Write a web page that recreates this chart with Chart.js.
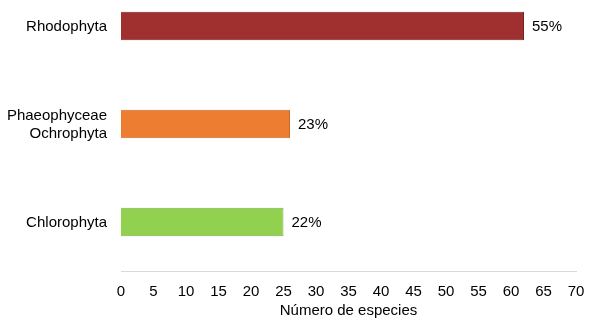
<!DOCTYPE html>
<html>
<head>
<meta charset="utf-8">
<script src="https://cdn.jsdelivr.net/npm/chart.js@4/dist/chart.umd.min.js"></script>
<style>
  html, body { margin: 0; padding: 0; background: #fff; }
  #wrap { width: 589px; height: 328px; }
</style>
</head>
<body>
<div id="wrap"><canvas id="barChart"></canvas></div>
<script>
var groups = [["Rhodophyta"], ["Phaeophyceae", "Ochrophyta"], ["Chlorophyta"]];
var species = [62, 26, 25];
var percents = ["55%", "23%", "22%"];
var barColors = ["#a0302f", "#ed7d31", "#92d050"];
var edgeColors = ["#7a2323", "#c8692a", "#7cb344"];
var xTicks = [0, 5, 10, 15, 20, 25, 30, 35, 40, 45, 50, 55, 60, 65, 70];

// percentage labels right of each bar
var percentLabels = {
    id: "percentLabels",
    afterDatasetsDraw: function (chart) {
        var ctx = chart.ctx;
        var meta = chart.getDatasetMeta(0);
        ctx.save();
        ctx.font = "15px 'Liberation Sans', Arial, sans-serif";
        ctx.fillStyle = "#000";
        ctx.textBaseline = "middle";
        ctx.textAlign = "left";
        meta.data.forEach(function (bar, i) {
            ctx.fillText(percents[i], bar.x + 8, bar.y + 1);
        });
        ctx.restore();
    }
};

Chart.defaults.font.family = "'Liberation Sans', Arial, sans-serif";
Chart.defaults.font.size = 15;
Chart.defaults.color = "#000";

var ctx = document.getElementById("barChart");
var myChart = new Chart(ctx, {
    type: "bar",
    data: {
        datasets: [{
            data: species.map(function (v, i) { return { x: v, y: i }; }),
            backgroundColor: barColors,
            borderColor: edgeColors,
            borderWidth: 1,
            barPercentage: 0.29,
            categoryPercentage: 1
        }]
    },
    options: {
        indexAxis: "y",
        responsive: true,
        maintainAspectRatio: false,
        animation: false,
        events: [],
        layout: { padding: { top: 0, right: 13, left: 0, bottom: 0 } },
        plugins: {
            legend: { display: false },
            tooltip: { enabled: false }
        },
        scales: {
            x: {
                type: "linear",
                min: 0,
                max: 70,
                afterBuildTicks: function (scale) {
                    scale.ticks = xTicks.map(function (v) { return { value: v }; });
                },
                afterFit: function (scale) {
                    scale.paddingLeft = 0;
                    scale.paddingRight = 0;
                    scale.height = 57;
                },
                grid: { display: false, drawTicks: false },
                border: { display: true, color: "#d9d9d9", width: 1 },
                ticks: { padding: 12, maxRotation: 0, autoSkip: false },
                title: { display: true, text: "Número de especies", padding: { top: 0, bottom: 8 } }
            },
            y: {
                type: "linear",
                reverse: true,
                offset: false,
                min: -0.265,
                max: 2.5,
                afterBuildTicks: function (scale) {
                    scale.ticks = groups.map(function (g, i) { return { value: i }; });
                },
                afterFit: function (scale) {
                    scale.width = 121;
                    scale.paddingTop = 0;
                    scale.paddingBottom = 0;
                },
                grid: { display: false, drawTicks: false, offset: false },
                border: { display: false },
                ticks: {
                    padding: 14,
                    autoSkip: false,
                    labelOffset: 1,
                    font: { lineHeight: 1.15 },
                    callback: function (value) { return groups[value]; }
                }
            }
        }
    },
    plugins: [percentLabels]
});
</script>
</body>
</html>
